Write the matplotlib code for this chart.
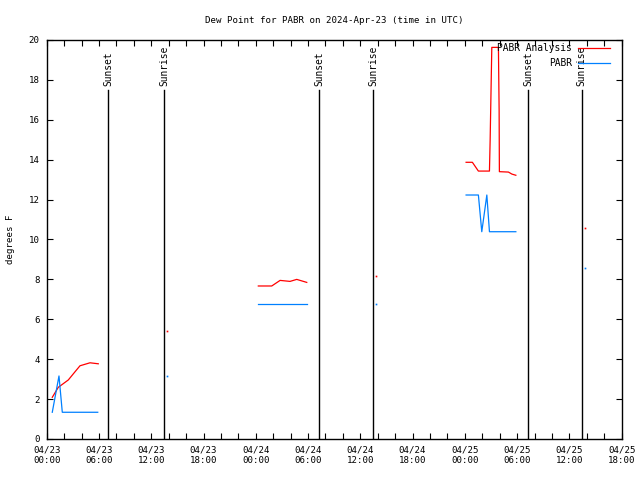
import matplotlib as mpl
mpl.use('Agg')
import matplotlib.pyplot as plt

# hours since 2024-04-23 00:00 UTC
analysis_t = [[0.64, 1.33, 2.48, 3.25, 3.82, 4.97, 5.92],
              [24.29, 25.83, 26.79, 27.93, 28.7, 29.85],
              [48.14, 48.86, 49.55, 50.82, 50.9, 51.09, 51.85, 51.93, 51.96, 53.0, 53.39, 53.85]]
analysis_v = [[2.09, 2.59, 2.96, 3.37, 3.67, 3.82, 3.77],
              [7.67, 7.67, 7.95, 7.9, 8.0, 7.85],
              [13.87, 13.87, 13.43, 13.43, 14.99, 19.63, 19.63, 16.49, 13.4, 13.38, 13.28, 13.22]]
obs_t = [[0.64, 1.41, 1.79, 5.86],
         [24.26, 29.89],
         [48.14, 49.55, 49.94, 50.52, 50.82, 53.85]]
obs_v = [[1.34, 3.16, 1.34, 1.34],
         [6.77, 6.77],
         [12.23, 12.23, 10.39, 12.23, 10.39, 10.39]]
# lone points
analysis_dot_t = [13.81, 37.8, 61.8]
analysis_dot_v = [5.41, 8.17, 10.58]
obs_dot_t = [13.81, 37.8, 61.8]
obs_dot_v = [3.16, 6.77, 8.57]

sun_t = [7.07, 13.5, 31.25, 37.45, 55.3, 61.4]
sun_lbl = ['Sunset', 'Sunrise', 'Sunset', 'Sunrise', 'Sunset', 'Sunrise']

tick_hours = list(range(0, 67, 6))
tick_labels = ['04/23\n00:00', '04/23\n06:00', '04/23\n12:00', '04/23\n18:00',
               '04/24\n00:00', '04/24\n06:00', '04/24\n12:00', '04/24\n18:00',
               '04/25\n00:00', '04/25\n06:00', '04/25\n12:00', '04/25\n18:00']

red = '#ff0000'
blue = '#0080ff'
fs = 6.6
plt.rcParams['font.family'] = 'DejaVu Sans Mono'
plt.rcParams['font.size'] = fs

fig = plt.figure(figsize=(6.4, 4.8), dpi=100)
ax = fig.add_axes([46.7 / 640, 1 - 439 / 480, (621.7 - 46.7) / 640, (439 - 40) / 480])

for i in range(len(analysis_t)):
    ax.plot(analysis_t[i], analysis_v[i], color=red, lw=0.9,
            label='PABR Analysis' if i == 0 else None)
for i in range(len(obs_t)):
    ax.plot(obs_t[i], obs_v[i], color=blue, lw=0.9,
            label='PABR' if i == 0 else None)
ax.plot(analysis_dot_t, analysis_dot_v, ls='none', marker='s', ms=1.2, color=red, mew=0)
ax.plot(obs_dot_t, obs_dot_v, ls='none', marker='s', ms=1.2, color=blue, mew=0)

for t, s in zip(sun_t, sun_lbl):
    ax.plot([t, t], [0, 17.5], color='black', lw=1)
    ax.text(t, 17.7, s, rotation=90, ha='center', va='bottom', fontsize=fs + 0.3)

ax.set_xlim(0, 66)
ax.set_ylim(0, 20)
ax.set_xticks(tick_hours)
ax.set_xticklabels(tick_labels)
ax.set_xticks(range(0, 67, 2), minor=True)
ax.set_yticks(range(0, 21, 2))
ax.tick_params(which='both', direction='in', top=True, right=True, length=4, width=0.8, pad=5)
for sp in ax.spines.values():
    sp.set_linewidth(1)

ax.set_ylabel('degrees F', labelpad=10)
ax.set_title('Dew Point for PABR on 2024-Apr-23 (time in UTC)', fontsize=fs, pad=12)
ax.legend(loc='upper right', frameon=False, markerfirst=False, handlelength=3.4,
          borderaxespad=0.0, borderpad=0.3, labelspacing=0.55, handletextpad=0.6,
          fontsize=fs + 0.3, bbox_to_anchor=(0.985, 1.0))

plt.savefig('out.png', dpi=100)
